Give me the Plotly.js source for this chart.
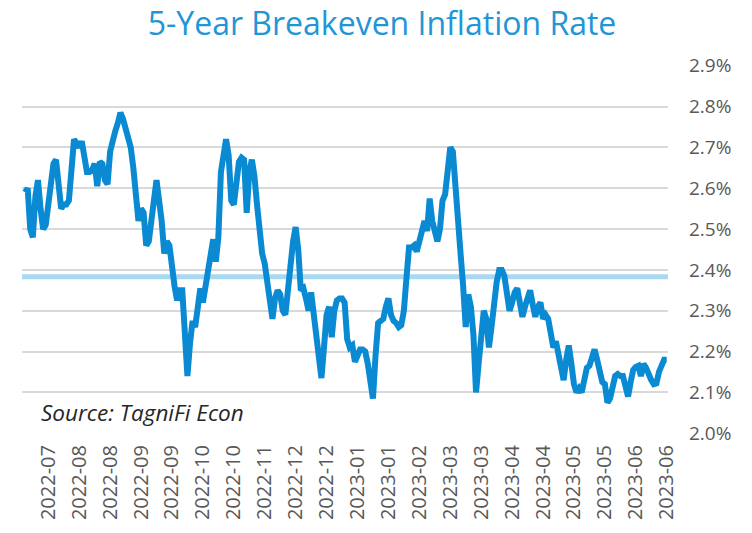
<!DOCTYPE html>
<html>
<head>
<meta charset="utf-8">
<script src="https://cdn.plot.ly/plotly-3.0.1.min.js"></script>
<style>html,body{margin:0;padding:0;background:#fff;}#chart{width:752px;height:533px;}</style>
</head>
<body>
<div id="chart"></div>
<script>
const breakevenRate = [
  2.59,2.60,2.50,2.48,2.58,2.62,2.55,2.50,2.51,2.57,
  2.63,2.66,2.67,2.60,2.55,2.56,2.56,2.57,2.66,2.72,
  2.71,2.70,2.715,2.68,2.64,2.64,2.645,2.66,2.605,2.665,
  2.66,2.62,2.61,2.69,2.72,2.74,2.76,2.785,2.77,2.75,
  2.72,2.70,2.65,2.56,2.52,2.55,2.54,2.46,2.47,2.52,
  2.58,2.62,2.57,2.52,2.44,2.47,2.46,2.40,2.36,2.325,
  2.35,2.35,2.24,2.14,2.22,2.275,2.26,2.30,2.355,2.32,
  2.36,2.40,2.43,2.475,2.42,2.48,2.64,2.69,2.72,2.68,
  2.57,2.56,2.63,2.665,2.675,2.67,2.54,2.64,2.67,2.63,
  2.56,2.48,2.44,2.415,2.37,2.30,2.28,2.33,2.35,2.34,
  2.30,2.29,2.35,2.42,2.47,2.505,2.45,2.35,2.355,2.33,
  2.30,2.345,2.29,2.24,2.17,2.135,2.21,2.29,2.31,2.235,
  2.30,2.325,2.33,2.33,2.32,2.23,2.21,2.215,2.175,2.19,
  2.205,2.205,2.20,2.17,2.12,2.085,2.19,2.27,2.275,2.28,
  2.31,2.33,2.29,2.275,2.27,2.26,2.265,2.30,2.38,2.455,
  2.455,2.46,2.445,2.47,2.50,2.52,2.495,2.575,2.52,2.49,
  2.47,2.50,2.57,2.585,2.65,2.70,2.69,2.59,2.50,2.44,
  2.36,2.26,2.34,2.31,2.24,2.10,2.17,2.24,2.30,2.28,
  2.21,2.26,2.32,2.37,2.40,2.40,2.385,2.33,2.30,2.32,
  2.345,2.355,2.31,2.285,2.31,2.335,2.35,2.315,2.285,2.31,
  2.32,2.28,2.29,2.28,2.25,2.21,2.225,2.19,2.15,2.13,
  2.18,2.215,2.17,2.12,2.10,2.11,2.10,2.14,2.16,2.165,
  2.185,2.205,2.18,2.155,2.125,2.12,2.075,2.085,2.11,2.14,
  2.145,2.14,2.14,2.12,2.09,2.125,2.155,2.162,2.165,2.14,
  2.17,2.16,2.14,2.13,2.12,2.122,2.15,2.17,2.18,2.18
];
// Period average shown as the light blue reference line
const averageRate = 2.383;
// Category-axis labels (one every 12 observations)
const tickLabels = [
  "2022-07","2022-08","2022-08","2022-09","2022-09","2022-10","2022-10",
  "2022-11","2022-12","2022-12","2023-01","2023-01","2023-02","2023-03",
  "2023-03","2023-04","2023-04","2023-05","2023-05","2023-06","2023-06"
];
const yTickVals = [2.0,2.1,2.2,2.3,2.4,2.5,2.6,2.7,2.8,2.9];
const yTickText = ["2.0%","2.1%","2.2%","2.3%","2.4%","2.5%","2.6%","2.7%","2.8%","2.9%"];

const n = breakevenRate.length;
const xIdx = breakevenRate.map((_, i) => i);
const tickVals = tickLabels.map((_, k) => n - 1 - 12 * (tickLabels.length - 1 - k));

const FONT = "'Open Sans', Lato, sans-serif";

const traces = [
  {
    x: [xIdx[0] - 1.2, xIdx[n - 1] + 0.5],
    y: [averageRate, averageRate],
    mode: "lines",
    line: {color: "#A9D8F2", width: 5},
    hoverinfo: "skip",
    showlegend: false
  },
  {
    x: xIdx,
    y: breakevenRate,
    mode: "lines",
    line: {color: "#0A8AD2", width: 6, shape: "linear"},
    showlegend: false
  }
];

const layout = {
  width: 752,
  height: 533,
  paper_bgcolor: "#ffffff",
  plot_bgcolor: "#ffffff",
  margin: {l: 22, r: 84, t: 65, b: 99},
  title: {
    text: "5-Year Breakeven Inflation Rate",
    font: {family: FONT, size: 32, color: "#1E96D8"},
    x: 0.508, xanchor: "center",
    y: 0.956, yanchor: "middle"
  },
  xaxis: {
    range: [-1.2, n - 0.5],
    tickmode: "array",
    tickvals: tickVals,
    ticktext: tickLabels,
    tickangle: -90,
    tickfont: {family: FONT, size: 20, color: "#595959"},
    showgrid: false,
    zeroline: false,
    showline: false,
    ticks: "",
    ticklabelstandoff: 6
  },
  yaxis: {
    side: "right",
    range: [1.998, 2.902],
    tickmode: "array",
    tickvals: yTickVals,
    ticktext: yTickText,
    tickfont: {family: FONT, size: 19, color: "#595959"},
    showgrid: true,
    gridcolor: "#D9D9D9",
    gridwidth: 2,
    zeroline: false,
    showline: false,
    ticks: "",
    ticklabelstandoff: 20
  },
  annotations: [
    {
      text: "<i>Source: TagniFi Econ</i>",
      xref: "paper", yref: "y",
      x: 0.026, y: 2.05,
      xanchor: "left", yanchor: "middle",
      showarrow: false,
      font: {family: FONT, size: 22.5, color: "#262626"}
    }
  ]
};

Plotly.newPlot("chart", traces, layout, {displayModeBar: false, staticPlot: true});
</script>
</body>
</html>
